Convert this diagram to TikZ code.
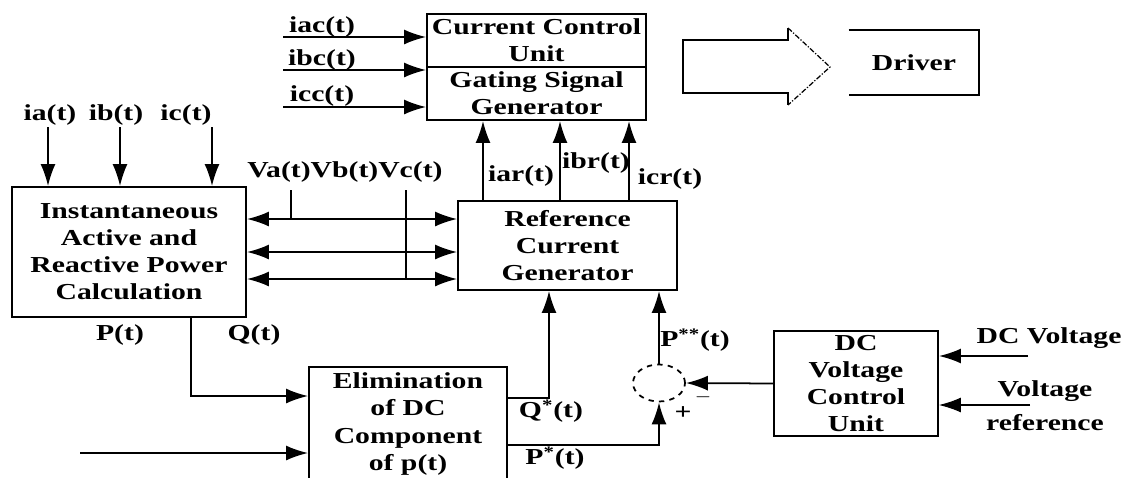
\documentclass[tikz,border=0pt]{standalone}
\usepackage{fontspec}
\usepackage{tikz}
\usetikzlibrary{shapes.geometric, arrows.meta, positioning, calc}
\newfontfamily\figfont{Liberation Serif}[FakeStretch=1.3]
\newcommand{\figtext}{\figfont\bfseries\fontsize{13}{15.4}\selectfont}
\tikzstyle{block} = [rectangle, draw, line width=1.1pt, align=center, font=\figtext, inner sep=1pt]
\tikzstyle{sig} = [font=\figtext, inner sep=0pt, align=center]
\tikzstyle{wire} = [line width=1pt]
\tikzstyle{arrow} = [line width=1pt, -{Latex[length=4.4mm,width=3mm]}]
\tikzstyle{twoway} = [line width=1pt, {Latex[length=4.4mm,width=3mm]}-{Latex[length=4.4mm,width=3mm]}]

\begin{document}
\begin{tikzpicture}[x=0.02cm, y=-0.02cm]
    % shunt active filter control scheme (pixel grid)
    \useasboundingbox (0,0) rectangle (1131,477);
    \fill[white] (0,0) rectangle (1131,477);
    \clip (0,0) rectangle (1131,477);

    \node[block, minimum width=4.38cm, minimum height=1.06cm] (ccu) at (536.5,40.5) {Current Control\\Unit};
    \node[block, minimum width=4.38cm, minimum height=1.06cm] (gsg) at (536.5,93.5) {Gating Signal\\Generator};
    \node[block, minimum width=4.68cm, minimum height=2.6cm] (power) at (129,252) {Instantaneous\\Active and\\Reactive Power\\Calculation};
    \node[block, minimum width=4.38cm, minimum height=1.78cm] (refgen) at (567.5,245.5) {Reference\\Current\\Generator};
    \node[block, minimum width=3.96cm, minimum height=2.28cm] (elim) at (408,424) {Elimination\\of DC\\Component\\of p(t)};
    \node[block, minimum width=3.28cm, minimum height=2.1cm] (dcvcu) at (856,383.5) {DC\\Voltage\\Control\\Unit};
    \node[ellipse, draw, dashed, line width=1pt, minimum width=1.04cm, minimum height=0.74cm, inner sep=0pt] (sum) at (659,383) {};
    \node[sig, minimum width=2.6cm, minimum height=1.3cm] (driver) at (914,62.5) {Driver};
    \draw[wire] (driver.north west) -- (driver.north east) -- (driver.south east) -- (driver.south west);

    % hollow arrow towards the driver
    \draw[line width=0.8pt] (788,28) -- (788,40) -- (683,40) -- (683,93) -- (788,93) -- (788,105);
    \draw[line width=0.7pt, densely dashdotted] (788,28) -- (830,67) -- (788,105);

    % inputs of the current control unit
    \coordinate (iacin) at (283,37);
    \coordinate (ibcin) at (283,70);
    \coordinate (iccin) at (283,107);
    \draw[arrow] (iacin) -- (iacin -| ccu.west);
    \draw[arrow] (ibcin) -- (ibcin -| gsg.west);
    \draw[arrow] (iccin) -- (iccin -| gsg.west);
    \node[sig] at (322,27) {iac(t)};
    \node[sig] at (322,60) {ibc(t)};
    \node[sig] at (322,96) {icc(t)};

    % load currents
    \coordinate (iain) at (48,127);
    \coordinate (ibin) at (120,127);
    \coordinate (icin) at (212,127);
    \draw[arrow] (iain) -- (iain |- power.north);
    \draw[arrow] (ibin) -- (ibin |- power.north);
    \draw[arrow] (icin) -- (icin |- power.north);
    \node[sig] at (50,115) {ia(t)};
    \node[sig] at (116,115) {ib(t)};
    \node[sig] at (186,115) {ic(t)};

    % supply voltages
    \node[sig] (vabc) at (345,172) {Va(t)Vb(t)Vc(t)};
    \coordinate (row1) at (300,219);
    \coordinate (row2) at (300,252);
    \coordinate (row3) at (300,279);
    \draw[twoway] (power.east |- row1) -- (refgen.west |- row1);
    \draw[twoway] (power.east |- row2) -- (refgen.west |- row2);
    \draw[twoway] (power.east |- row3) -- (refgen.west |- row3);
    \draw[wire] (291,190) -- (291,219);
    \draw[wire] (406,190) -- (406,279);

    % reference currents
    \draw[arrow] (refgen.north -| 483,0) -- (gsg.south -| 483,0);
    \draw[arrow] (refgen.north -| 560,0) -- (gsg.south -| 560,0);
    \draw[arrow] (refgen.north -| 629,0) -- (gsg.south -| 629,0);
    \node[sig] at (521,176) {iar(t)};
    \node[sig] at (596,163) {ibr(t)};
    \node[sig] at (670,179) {icr(t)};

    % powers
    \node[sig] at (120,335) {P(t)};
    \node[sig] at (254,335) {Q(t)};
    \draw[arrow] (power.south -| 191,0) |- (elim.west |- 0,396);
    \coordinate (elimin) at (80,453);
    \draw[arrow] (elimin) -- (elimin -| elim.west);
    \draw[arrow] (elim.east |- 0,398) -| (refgen.south -| 549,0);
    \node[sig] at (551,411) {Q\textsuperscript{*}(t)};
    \draw[arrow] (elim.east |- 0,445) -| (sum.south);
    \node[sig] at (555,458) {P\textsuperscript{*}(t)};
    \node[sig] at (683,413) {+};
    \draw[arrow] (sum.north) -- (refgen.south -| sum.north);
    \node[sig] at (695,340) {P\textsuperscript{**}(t)};
    \draw[arrow] (dcvcu.west) -- (sum.east);
    \node[sig] at (703,397) {$-$};

    % DC side
    \coordinate (dcin) at (1028,356);
    \coordinate (refin) at (1030,405);
    \draw[arrow] (dcin) -- (dcin -| dcvcu.east);
    \draw[line width=0.6pt, -{Latex[length=4.4mm,width=3mm]}] (refin) -- (refin -| dcvcu.east);
    \node[sig] at (1049,338) {DC Voltage};
    \node[sig] at (1045,406) {Voltage\\[4pt]reference};
\end{tikzpicture}
\end{document}
